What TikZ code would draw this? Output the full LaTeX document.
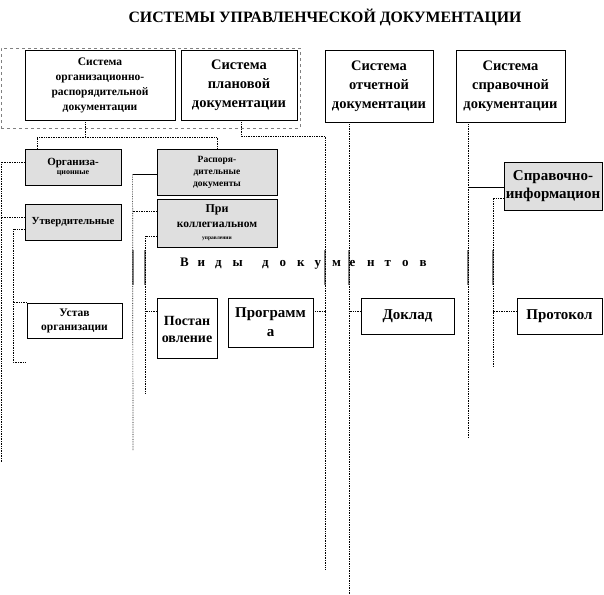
\documentclass[tikz,border=0pt]{standalone}
\usepackage{fontspec}
\setmainfont{Liberation Serif}
\newcommand\spl[1]{\makebox[17.5pt][l]{#1}}
\begin{document}
\begin{tikzpicture}[x=1pt,y=-1pt,
  box/.style={draw=black, line width=0.8pt, inner sep=0pt, align=center},
  gbox/.style={box, fill=gray!25},
  conn/.style={densely dotted, line width=0.7pt},
  solidc/.style={line width=0.7pt},
  grayseg/.style={draw=gray, line width=1.6pt},
  big/.style={font=\bfseries\fontsize{14.5}{19}\selectfont},
]
\useasboundingbox (0,0) rectangle (604,594);

\node[font=\bfseries\fontsize{15.8}{18}\selectfont] (title) at (325,17) {СИСТЕМЫ УПРАВЛЕНЧЕСКОЙ ДОКУМЕНТАЦИИ};

\node[draw=gray, dashed, line width=0.8pt, minimum width=299pt, minimum height=80pt, inner sep=0pt] (grp) at (150.5,88) {};

\node[box, fill=white, minimum width=150pt, minimum height=70pt, font=\bfseries\fontsize{11.5}{15}\selectfont] (s1) at (100,85) {Система\\организационно-\\распорядительной\\документации};
\node[box, fill=white, minimum width=116pt, minimum height=70pt, big] (s2) at (239,85) {Система\\плановой\\документации};
\node[box, minimum width=108pt, minimum height=72pt, big] (s3) at (379,86) {Система\\отчетной\\документации};
\node[box, minimum width=109pt, minimum height=72pt, big] (s4) at (510.5,86) {Система\\справочной\\документации};

\node[gbox, minimum width=96pt, minimum height=36pt, font=\bfseries\fontsize{11}{9}\selectfont] (org) at (73,167) {Организа-\\{\fontsize{8}{8}\selectfont ционные}};
\node[gbox, minimum width=96pt, minimum height=36pt, font=\bfseries\fontsize{10.8}{12}\selectfont] (utv) at (73,222) {Утвердительные};
\node[box, minimum width=95pt, minimum height=35pt, font=\bfseries\fontsize{11.5}{14}\selectfont] (ustav) at (74.5,320.5) {Устав\\организации};

\node[gbox, minimum width=120pt, minimum height=46pt, font=\bfseries\fontsize{9.5}{12}\selectfont] (rasp) at (217,172) {Распоря-\\дительные\\документы};
\node[gbox, minimum width=120pt, minimum height=48pt, font=\bfseries\fontsize{12}{15}\selectfont] (pri) at (217,223) {При\\{\fontsize{11.5}{12}\selectfont коллегиальном}\\[-3pt]{\fontsize{5.5}{6}\selectfont управлении}};

\node[gbox, minimum width=98pt, minimum height=48pt, font=\bfseries\fontsize{15}{18}\selectfont] (sprav) at (553,186) {Справочно-\\информацион};

\node[anchor=west, inner sep=0pt, font=\bfseries\fontsize{13}{14}\selectfont] (vidy) at (180,264) {\spl{В}\spl{и}\spl{д}\spl{ы}\hspace{12pt}\spl{д}\spl{о}\spl{к}\spl{у}\spl{м}\spl{е}\spl{н}\spl{т}\spl{о}\spl{в}};

\node[box, minimum width=60pt, minimum height=60pt, font=\bfseries\fontsize{14}{17}\selectfont, anchor=north] (post) at (187,298) {\rule{0pt}{11pt}Постан\\овление};
\node[box, minimum width=85pt, minimum height=49pt, font=\bfseries\fontsize{15}{19}\selectfont] (prog) at (270.5,322.5) {Программ\\а};
\node[box, minimum width=93pt, minimum height=36pt, font=\bfseries\fontsize{15}{15}\selectfont] (dokl) at (407.5,316) {Доклад};
\node[box, minimum width=85pt, minimum height=36pt, font=\bfseries\fontsize{15}{15}\selectfont] (prot) at (559.5,316) {Протокол};

% gray segments behind heading
\foreach \xx in {133,145,325,349,468,493} \draw[grayseg] (\xx,250) -- (\xx,285);

% top connectors
\coordinate (j1) at (85,137);
\draw[conn] ([xshift=-15pt]s1.south) -- (j1);
\draw[conn] ([xshift=-36pt]org.north) |- (j1) -| (rasp.north);
\coordinate (j2) at (325,136);
\coordinate (e5) at (325,570);
\draw[conn] ([xshift=2pt]s2.south) |- (j2) -- (e5);

% left lines
\coordinate (e1) at (1,462);
\draw[conn] ([yshift=5pt]org.west) -| (e1);
\draw[conn] ([yshift=5pt]utv.west) -- +(-24,0);
\coordinate (e2) at (13,362);
\coordinate (f2) at (25,362);
\draw[conn] ([yshift=-7pt]utv.west) -| (e2) -- (f2);
\draw[conn] (ustav.north west) -- +(-14,0);

\coordinate (e3) at (133,450);
\draw[solidc] ([yshift=-2pt]rasp.west) -- +(-24,0) coordinate (t3);
\draw[conn] (t3) -- (e3);
\draw[conn] ([yshift=12pt]pri.west) -- +(-24,0);

\coordinate (e4) at (145,393);
\draw[conn] ([yshift=-13pt]pri.west) -| (e4);
\draw[conn] ([yshift=17pt]post.west) -- +(-12,0);

\draw[conn] ([yshift=11.5pt]prog.east) -- +(12,0);

\coordinate (e6) at (349,594);
\draw[conn] ([xshift=-30pt]s3.south) -- (e6);
\draw[conn] ([yshift=5pt]dokl.west) -- +(-12,0);

\coordinate (e7) at (468,437);
\draw[conn] ([xshift=-42.5pt]s4.south) -- (e7);
\draw[solidc] ([yshift=-1pt]sprav.west) -- +(-36,0);

\coordinate (e8) at (493,367);
\draw[conn] ([yshift=-12pt]sprav.west) -| (e8);
\draw[conn] ([yshift=5pt]prot.west) -- +(-24,0);
\end{tikzpicture}
\end{document}
